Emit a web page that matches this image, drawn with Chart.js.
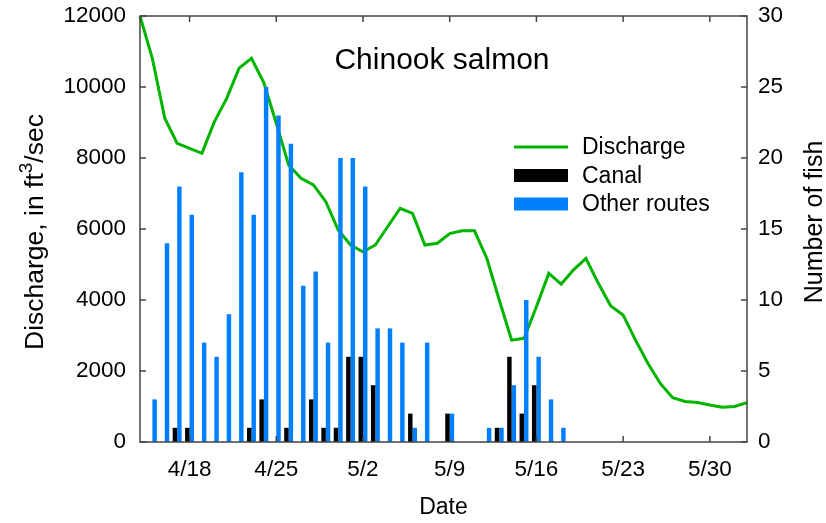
<!DOCTYPE html>
<html>
<head>
<meta charset="utf-8">
<script src="https://cdn.jsdelivr.net/npm/chart.js@4.4.0/dist/chart.umd.min.js"></script>
<style>
  html, body { margin: 0; padding: 0; background: #fff; }
  #wrap { width: 826px; height: 523px; }
</style>
</head>
<body>
<div id="wrap"><canvas id="grafico" width="826" height="523"></canvas></div>
<script>
// days from 4/14 to 6/2
const dias = ['4/14','4/15','4/16','4/17','4/18','4/19','4/20','4/21','4/22','4/23','4/24','4/25','4/26','4/27','4/28','4/29','4/30',
  '5/1','5/2','5/3','5/4','5/5','5/6','5/7','5/8','5/9','5/10','5/11','5/12','5/13','5/14','5/15','5/16','5/17','5/18','5/19',
  '5/20','5/21','5/22','5/23','5/24','5/25','5/26','5/27','5/28','5/29','5/30','5/31','6/1','6/2'];
const rotulosX = ['4/18','4/25','5/2','5/9','5/16','5/23','5/30'];

// discharge, ft3/sec
const vazao = [12000,10800,9120,8410,8270,8130,9020,9680,10530,10810,10120,8980,7800,7430,7240,6770,5970,
  5550,5360,5550,6070,6580,6440,5550,5600,5870,5950,5950,5170,4000,2870,2920,3810,4750,4450,
  4850,5170,4470,3830,3580,2870,2220,1650,1250,1140,1110,1040,980,1000,1110];
// number of fish
const canal = [0,0,0,1,1,0,0,0,0,1,3,0,1,0,3,1,1,
  6,6,4,0,0,2,0,0,2,0,0,0,1,6,2,4,0,0,
  0,0,0,0,0,0,0,0,0,0,0,0,0,0,0];
const outrasRotas = [0,3,14,18,16,7,6,9,19,16,25,23,21,11,12,7,20,
  20,18,8,8,7,1,7,0,2,0,0,1,1,4,10,6,3,1,
  0,0,0,0,0,0,0,0,0,0,0,0,0,0,0];

const FONTE = "'Liberation Sans', Arial, sans-serif";
const VERDE = '#00b400';
const AZUL = '#0080ff';

function textoVertical(ctx, partes, x, yCentro) {
  // partes: [texto, tamanho, deslocamento]
  let total = 0;
  partes.forEach(p => { ctx.font = p[1] + 'px ' + FONTE; total += ctx.measureText(p[0]).width; });
  ctx.save();
  ctx.translate(x, yCentro);
  ctx.rotate(-Math.PI / 2);
  ctx.textAlign = 'left';
  ctx.textBaseline = 'alphabetic';
  let pos = -total / 2;
  partes.forEach(p => {
    ctx.font = p[1] + 'px ' + FONTE;
    ctx.fillText(p[0], pos, -p[2]);
    pos += ctx.measureText(p[0]).width;
  });
  ctx.restore();
}

const molduraPlugin = {
  id: 'moldura',
  afterDatasetsDraw(chart) {
    const ctx = chart.ctx;
    const a = chart.chartArea;
    const sx = chart.scales.x, sy = chart.scales.y, sy1 = chart.scales.y1;
    ctx.save();
    ctx.strokeStyle = '#444';
    ctx.lineWidth = 1.5;
    ctx.strokeRect(a.left, a.top, a.right - a.left, a.bottom - a.top);
    ctx.beginPath();
    sx.ticks.forEach((t, i) => {
      if (!rotulosX.includes(dias[t.value])) return;
      const px = sx.getPixelForTick(i);
      ctx.moveTo(px, a.top); ctx.lineTo(px, a.top + 6);
      ctx.moveTo(px, a.bottom); ctx.lineTo(px, a.bottom - 6);
    });
    sy.ticks.forEach((t, i) => {
      const py = sy.getPixelForTick(i);
      ctx.moveTo(a.left, py); ctx.lineTo(a.left + 6, py);
    });
    sy1.ticks.forEach((t, i) => {
      const py = sy1.getPixelForTick(i);
      ctx.moveTo(a.right, py); ctx.lineTo(a.right - 6, py);
    });
    ctx.stroke();

    // title inside the plot
    ctx.fillStyle = '#000';
    ctx.font = '30px ' + FONTE;
    ctx.textAlign = 'center';
    ctx.textBaseline = 'middle';
    ctx.fillText('Chinook salmon', 442, 61);

    // legend
    ctx.font = '23px ' + FONTE;
    ctx.textAlign = 'left';
    [0, 1, 2].forEach((k, i) => {
      const ds = chart.data.datasets[k];
      const y = 147 + i * 28.5;
      if (ds.type === 'line') {
        ctx.strokeStyle = ds.borderColor;
        ctx.lineWidth = 3;
        ctx.beginPath();
        ctx.moveTo(514, y); ctx.lineTo(568, y);
        ctx.stroke();
      } else {
        ctx.fillStyle = ds.backgroundColor;
        ctx.fillRect(514, y - 6.5, 54, 13);
      }
      ctx.fillStyle = '#000';
      ctx.fillText(ds.label, 582, y + 1);
    });

    // axis titles
    textoVertical(ctx, [['Discharge, in ft', 26.5, 0], ['3', 19, 11], ['/sec', 26.5, 0]], 43, 232);
    textoVertical(ctx, [['Number of fish', 25, 0]], 822, 222);
    ctx.restore();
  }
};

new Chart(document.getElementById('grafico'), {
  data: {
    labels: dias,
    datasets: [
      {
        type: 'line', label: 'Discharge', data: vazao, yAxisID: 'y',
        borderColor: VERDE, borderWidth: 3, pointRadius: 0, tension: 0, order: 2
      },
      {
        type: 'bar', label: 'Canal', data: canal, yAxisID: 'y1',
        backgroundColor: '#000', borderWidth: 0, order: 1,
        categoryPercentage: 0.72, barPercentage: 1
      },
      {
        type: 'bar', label: 'Other routes', data: outrasRotas, yAxisID: 'y1',
        backgroundColor: AZUL, borderWidth: 0, order: 1,
        categoryPercentage: 0.72, barPercentage: 1
      }
    ]
  },
  options: {
    responsive: false,
    animation: false,
    layout: { padding: { top: 16, left: 0, right: 0, bottom: 0 } },
    plugins: { legend: { display: false }, tooltip: { enabled: false } },
    scales: {
      x: {
        type: 'category', offset: false,
        grid: { display: false }, border: { display: false },
        ticks: {
          autoSkip: false, maxRotation: 0, padding: 6, color: '#000',
          font: { family: FONTE, size: 22.5 },
          callback: function(v) { const d = dias[v]; return rotulosX.includes(d) ? d : ''; }
        },
        title: { display: true, text: 'Date', color: '#000', font: { family: FONTE, size: 23 }, padding: { top: 0, bottom: 2 } },
        afterFit: s => { s.height = 81; s.paddingLeft = 0; s.paddingRight = 0; }
      },
      y: {
        position: 'left', min: 0, max: 12000,
        grid: { display: false }, border: { display: false },
        ticks: { stepSize: 2000, padding: 6, color: '#000', font: { family: FONTE, size: 22.5 }, callback: v => String(v) },
        afterFit: s => { s.width = 140; s.paddingTop = 0; s.paddingBottom = 0; }
      },
      y1: {
        position: 'right', min: 0, max: 30,
        grid: { display: false }, border: { display: false },
        ticks: { stepSize: 5, padding: 3, color: '#000', font: { family: FONTE, size: 22.5 }, callback: v => String(v) },
        afterFit: s => { s.width = 79; s.paddingTop = 0; s.paddingBottom = 0; }
      }
    }
  },
  plugins: [molduraPlugin]
});
</script>
</body>
</html>
